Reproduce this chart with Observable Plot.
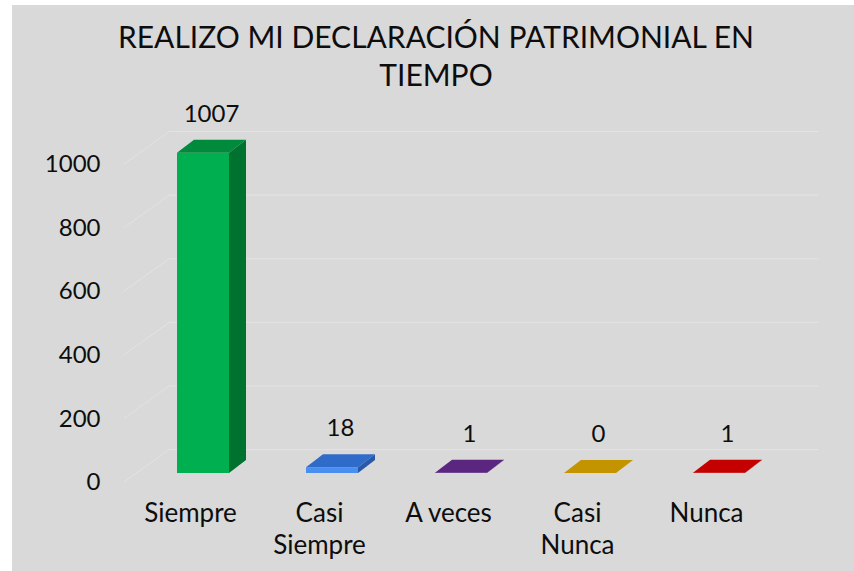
<!DOCTYPE html>
<html>
<head>
<meta charset="utf-8">
<script src="https://cdn.jsdelivr.net/npm/d3@7"></script>
<script src="https://cdn.jsdelivr.net/npm/@observablehq/plot@0.6"></script>
<style>
  html, body { margin: 0; padding: 0; background: #ffffff; }
  #wrap {
    position: absolute; left: 12px; top: 5px; width: 842px; height: 566px;
    background: #d9d9d9; overflow: hidden; font-family: Lato, "Open Sans", sans-serif;
  }
  #title {
    position: absolute; left: 0; top: 12px; width: 848px; text-align: center;
    font-size: 30px; line-height: 38px; color: #0d0d0d; font-weight: 400;
  }
  #chart { position: absolute; left: 0; top: 0; }
</style>
</head>
<body>
<div id="wrap">
  <div id="title">REALIZO MI DECLARACIÓN PATRIMONIAL EN<br>TIEMPO</div>
  <div id="chart"></div>
</div>
<script>
const categories = ["Siempre", "Casi Siempre", "A veces", "Casi Nunca", "Nunca"];
const values = [1007, 18, 1, 0, 1];
const xTickLabels = ["Siempre", "Casi\nSiempre", "A veces", "Casi\nNunca", "Nunca"];
const yTicks = [0, 200, 400, 600, 800, 1000];
const frontColors = ["#00b050", "#4a8ff0", "#7030a0", "#e0a800", "#e00000"];
const topColors = ["#008a3b", "#2f6bc8", "#5a2680", "#c49300", "#c40000"];
const sideColors = ["#00722f", "#2858a8", "#46206a", "#a67c00", "#a00000"];

const data = categories.map((c, i) => ({
  cat: c, value: values[i], front: frontColors[i], top: topColors[i], side: sideColors[i]
}));

const DX = 17, DY = -13;        // bar depth
const NS = "http://www.w3.org/2000/svg";

function getBW(X, scales) {
  if (typeof X.bandwidth === "function") return X.bandwidth();
  if (typeof X.bandwidth === "number") return X.bandwidth;
  return scales.scales && scales.scales.x ? scales.scales.x.bandwidth : 0;
}

// diagonal side/floor grid lines (3D depth of the value axis)
function sideGrid(index, scales, values_, dims) {
  const g = document.createElementNS(NS, "g");
  const Y = scales.y;
  const L = dims.marginLeft;
  for (const t of yTicks) {
    const l = document.createElementNS(NS, "line");
    l.setAttribute("x1", L - 12); l.setAttribute("y1", Y(t) + 9);
    l.setAttribute("x2", L + 34); l.setAttribute("y2", Y(t) - 24);
    l.setAttribute("stroke", "#e3e3e3"); l.setAttribute("stroke-width", 1);
    g.appendChild(l);
  }
  return g;
}

// top and side faces of the 3D bars
function barDepth(index, scales, values_, dims) {
  const g = document.createElementNS(NS, "g");
  const X = scales.x, Y = scales.y;
  const bw = getBW(X, scales);
  for (const d of data) {
    const x0 = X(d.cat), x1 = x0 + bw, yt = Y(d.value), yb = Y(0);
    const side = document.createElementNS(NS, "polygon");
    side.setAttribute("points", `${x1},${yt} ${x1 + DX},${yt + DY} ${x1 + DX},${yb + DY} ${x1},${yb}`);
    side.setAttribute("fill", d.side);
    g.appendChild(side);
    const top = document.createElementNS(NS, "polygon");
    top.setAttribute("points", `${x0},${yt} ${x1},${yt} ${x1 + DX},${yt + DY} ${x0 + DX},${yt + DY}`);
    top.setAttribute("fill", d.top);
    g.appendChild(top);
  }
  return g;
}

const chart = Plot.plot({
  width: 842,
  height: 566,
  marginLeft: 124,
  marginRight: 69,
  marginTop: 150,
  marginBottom: 98,
  style: { background: "transparent", fontFamily: "Lato, 'Open Sans', sans-serif", fontSize: "24px", color: "#0d0d0d" },
  x: { domain: categories, paddingInner: 0.6, paddingOuter: 0.3, label: null },
  y: { domain: [0, 1000], label: null },
  color: { type: "identity" },
  marks: [
    Plot.ruleY(yTicks, { stroke: "#e3e3e3", strokeWidth: 1, dx: 33.5, dy: -24 }),
    sideGrid,
    Plot.barY(data, { x: "cat", y: "value", fill: "front" }),
    barDepth,
    Plot.text(data, { x: "cat", y: "value", text: d => String(d.value), dx: 8, dy: -39, fontSize: 24, fill: "#0d0d0d" }),
    Plot.axisY(yTicks, { tickSize: 0, tickPadding: 36, dy: 9, fontSize: 24, label: null, fill: "#0d0d0d",
      tickFormat: d => String(d) }),
    Plot.axisX({ tickSize: 0, tickPadding: 25, dx: -13, fontSize: 26, lineHeight: 1.25, label: null,
      tickFormat: d => xTickLabels[categories.indexOf(d)], fill: "#0d0d0d" })
  ]
});
document.getElementById("chart").appendChild(chart);
</script>
</body>
</html>
